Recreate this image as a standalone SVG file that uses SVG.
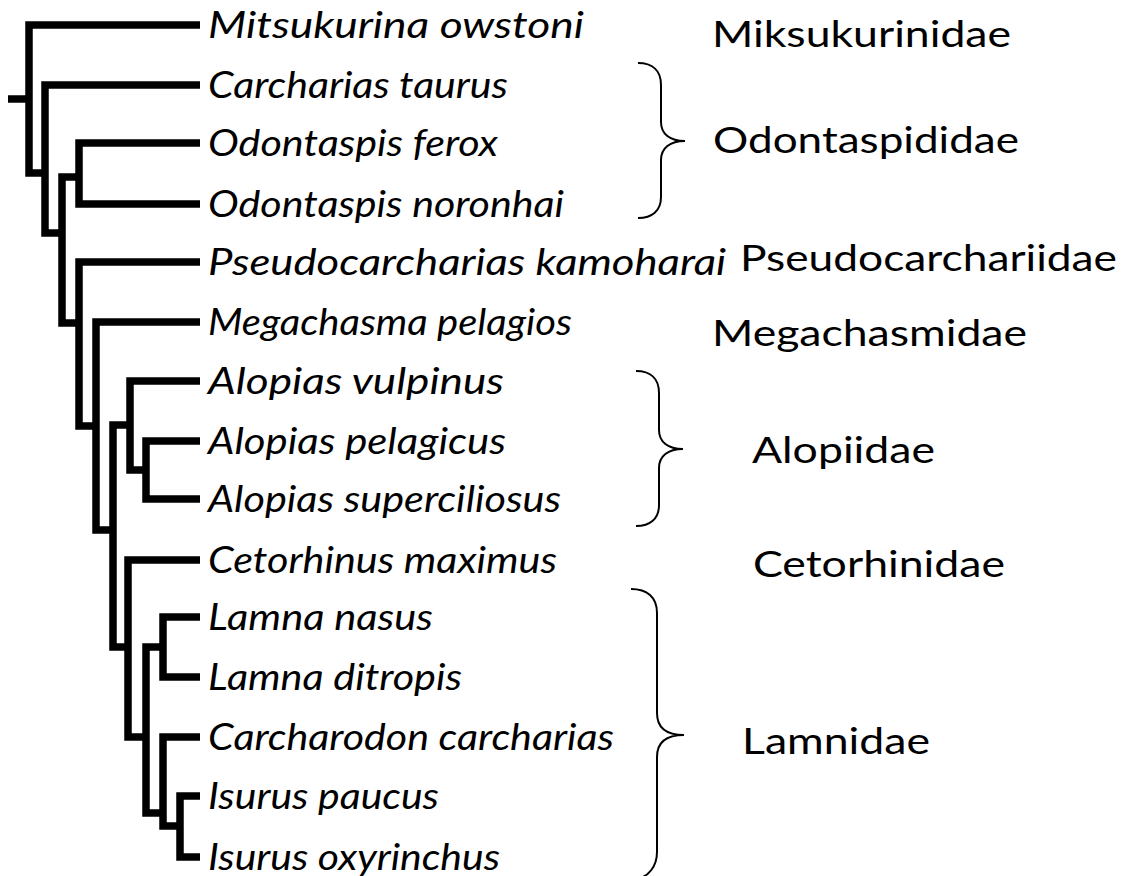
<svg xmlns="http://www.w3.org/2000/svg" width="1124" height="876" viewBox="0 0 1124 876">
<style>
.br{fill:none;stroke:#000;stroke-width:7.5;stroke-linejoin:miter;stroke-linecap:butt}
.brace{fill:none;stroke:#000;stroke-width:2}
.sp{font-family:Lato,"Open Sans",sans-serif;font-style:italic;font-size:36px;fill:#000}
.fam{font-family:Lato,"Open Sans",sans-serif;font-size:37px;fill:#000}
</style>
<rect width="1124" height="876" fill="#fff"/>
<g id="connectors">
<path class="br" d="M8,99 H29"/>
<path class="br" d="M200,25 H29 V173 H45"/>
<path class="br" d="M200,85 H45 V233 H62"/>
<path class="br" d="M79,177 H62 V323 H79"/>
<path class="br" d="M200,143 H79 V204 H200"/>
<path class="br" d="M200,262 H79 V426 H96"/>
<path class="br" d="M200,322 H96 V530 H113"/>
<path class="br" d="M130,425 H113 V647 H128"/>
<path class="br" d="M200,381 H130 V470 H146"/>
<path class="br" d="M200,441 H146 V499 H200"/>
<path class="br" d="M200,560 H128 V737 H146"/>
<path class="br" d="M163,647 H146 V813 H163"/>
<path class="br" d="M200,617 H163 V677 H200"/>
<path class="br" d="M200,737 H163 V826 H180"/>
<path class="br" d="M200,796 H180 V857 H200"/>
</g>
<g id="leaf-mitsukurina"><text class="sp" x="208" y="38" textLength="376" lengthAdjust="spacingAndGlyphs">Mitsukurina owstoni</text></g>
<g id="leaf-carcharias"><text class="sp" x="208" y="98" textLength="300" lengthAdjust="spacingAndGlyphs">Carcharias taurus</text></g>
<g id="leaf-ferox"><text class="sp" x="208" y="156" textLength="290" lengthAdjust="spacingAndGlyphs">Odontaspis ferox</text></g>
<g id="leaf-noronhai"><text class="sp" x="208" y="217" textLength="356" lengthAdjust="spacingAndGlyphs">Odontaspis noronhai</text></g>
<g id="leaf-pseudocarcharias"><text class="sp" x="208" y="275" textLength="518" lengthAdjust="spacingAndGlyphs">Pseudocarcharias kamoharai</text></g>
<g id="leaf-megachasma"><text class="sp" x="208" y="335" textLength="364" lengthAdjust="spacingAndGlyphs">Megachasma pelagios</text></g>
<g id="leaf-vulpinus"><text class="sp" x="208" y="394" textLength="296" lengthAdjust="spacingAndGlyphs">Alopias vulpinus</text></g>
<g id="leaf-pelagicus"><text class="sp" x="208" y="454" textLength="298" lengthAdjust="spacingAndGlyphs">Alopias pelagicus</text></g>
<g id="leaf-superciliosus"><text class="sp" x="208" y="512" textLength="353" lengthAdjust="spacingAndGlyphs">Alopias superciliosus</text></g>
<g id="leaf-cetorhinus"><text class="sp" x="208" y="573" textLength="349" lengthAdjust="spacingAndGlyphs">Cetorhinus maximus</text></g>
<g id="leaf-nasus"><text class="sp" x="208" y="630" textLength="225" lengthAdjust="spacingAndGlyphs">Lamna nasus</text></g>
<g id="leaf-ditropis"><text class="sp" x="208" y="690" textLength="254" lengthAdjust="spacingAndGlyphs">Lamna ditropis</text></g>
<g id="leaf-carcharodon"><text class="sp" x="208" y="750" textLength="406" lengthAdjust="spacingAndGlyphs">Carcharodon carcharias</text></g>
<g id="leaf-paucus"><text class="sp" x="208" y="809" textLength="231" lengthAdjust="spacingAndGlyphs">Isurus paucus</text></g>
<g id="leaf-oxyrinchus"><text class="sp" x="208" y="870" textLength="292" lengthAdjust="spacingAndGlyphs">Isurus oxyrinchus</text></g>
<g id="brace-odontaspididae"><path class="brace" d="M638,63 C652,63 661,70 661,85 V122 C661,134 670,141 685,141 C670,141 661,148 661,160 V197 C661,211 652,218 638,218"/></g>
<g id="brace-alopiidae"><path class="brace" d="M636,371 C650,371 659,378 659,393 V430 C659,442 668,449 683,449 C668,449 659,456 659,468 V505 C659,519 650,526 636,526"/></g>
<g id="brace-lamnidae"><path class="brace" d="M631,589 C647,589 657,597 657,613 V713 C657,727 666,735 684,735 C666,735 657,743 657,757 V852 C657,868 647,876 640,878"/></g>
<g id="fam-miksukurinidae"><text class="fam" x="712" y="47" textLength="299" lengthAdjust="spacingAndGlyphs">Miksukurinidae</text></g>
<g id="fam-odontaspididae"><text class="fam" x="713" y="153" textLength="306" lengthAdjust="spacingAndGlyphs">Odontaspididae</text></g>
<g id="fam-pseudocarchariidae"><text class="fam" x="740" y="271" textLength="377" lengthAdjust="spacingAndGlyphs">Pseudocarchariidae</text></g>
<g id="fam-megachasmidae"><text class="fam" x="712" y="346" textLength="315" lengthAdjust="spacingAndGlyphs">Megachasmidae</text></g>
<g id="fam-alopiidae"><text class="fam" x="752" y="463" textLength="183" lengthAdjust="spacingAndGlyphs">Alopiidae</text></g>
<g id="fam-cetorhinidae"><text class="fam" x="753" y="577" textLength="252" lengthAdjust="spacingAndGlyphs">Cetorhinidae</text></g>
<g id="fam-lamnidae"><text class="fam" x="742" y="754" textLength="188" lengthAdjust="spacingAndGlyphs">Lamnidae</text></g>
</svg>
